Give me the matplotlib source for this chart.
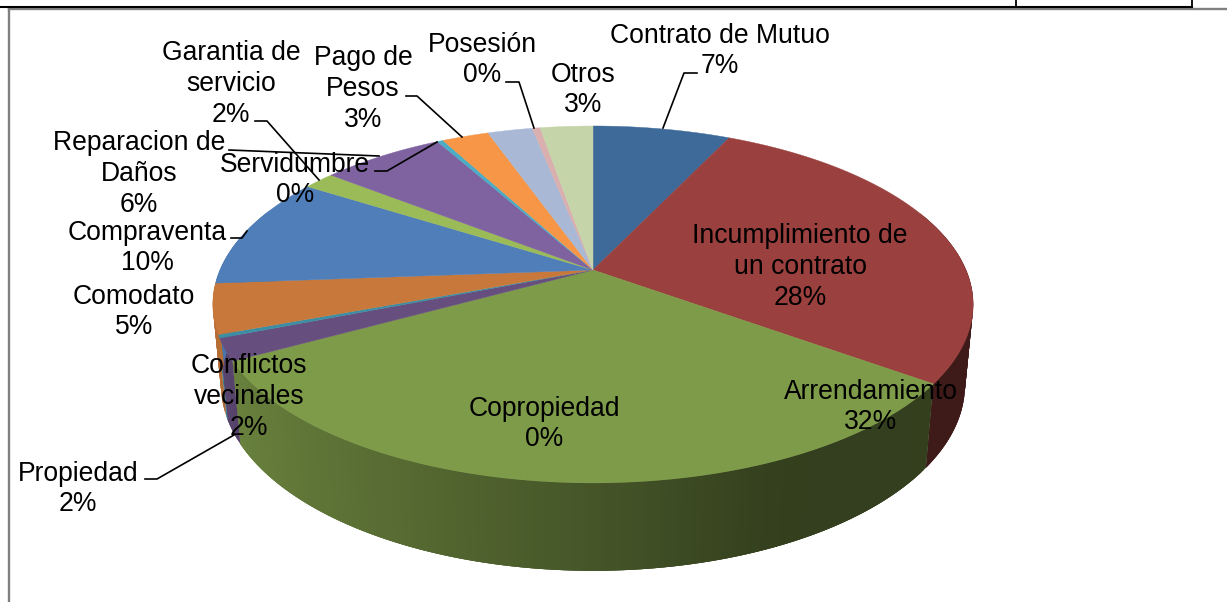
import numpy as np
import matplotlib
matplotlib.use("Agg")
import matplotlib.pyplot as plt

# porcentajes, en sentido horario desde arriba
nombres = ["Contrato de Mutuo", "Incumplimiento de\nun contrato", "Arrendamiento",
           "Conflictos\nvecinales", "Copropiedad", "Comodato", "Compraventa",
           "Garantia de\nservicio", "Reparacion de\nDaños", "Servidumbre",
           "Pago de\nPesos", "Propiedad", "Posesión", "Otros"]
valores = [7.05, 27.95, 32.0, 2.0, 0.3, 4.5, 10.2, 1.6, 6.3, 0.3, 2.4, 2.3, 0.4, 2.7]
etiquetas = ["7%", "28%", "32%", "2%", "0%", "5%", "10%", "2%", "6%", "0%", "3%", "2%", "0%", "3%"]
colores = ["#3E6A99", "#9A403E", "#7E9B49", "#664F7E", "#3B8EA3", "#C8783A", "#4F7EB9",
           "#9BBB59", "#7F62A0", "#4BACC6", "#F79646", "#A8B8D5", "#D9AFAF", "#C6D5A9"]

# centro de cada bloque de texto
pos_texto = [(720, 51), (800, 267), (871, 407), (249, 397), (544, 424), (134, 312), (147, 248),
             (231, 84), (139, 174), (295, 180), (363, 89), (78, 489), (482, 60), (583, 90)]

# lineas guia
guias = [[(663, 128), (684, 73), (697, 73)],
         [(462, 137), (417, 96), (406, 96)],
         [(534, 128), (519, 82), (506, 82)],
         [(319, 180), (267, 121), (255, 121)],
         [(379, 156), (229, 150)],
         [(437, 142), (387, 171), (375, 171)],
         [(247, 231), (242, 238), (231, 238)],
         [(234, 435), (157, 479), (145, 479)]]

K = 0.193  # perspectiva del disco


def disco_sup(t):
    u, v = np.sin(t), np.cos(t)
    d = 1 + K * v
    return 593 + 373 * u / d, 270 - 171.8 * v / d


def disco_inf(t):
    u, v = np.sin(t), np.cos(t)
    d = 1 + K * v
    return 593 + 365 * u / d, 349 - 179 * v / d


def oscurecer(color, f):
    r, g, b = matplotlib.colors.to_rgb(color)
    return (r * f, g * f, b * f)


fig = plt.figure(figsize=(12.27, 6.02), dpi=100)
ax = fig.add_axes([0, 0, 1, 1])
ax.set_xlim(0, 1227)
ax.set_ylim(602, 0)
ax.axis("off")

# marco de la pagina
ax.plot([9, 9], [8, 602], color="#808080", lw=1.7)
ax.plot([9, 1227], [8.5, 8.5], color="#808080", lw=1.7)
ax.plot([0, 1192], [6.5, 6.5], color="black", lw=1.5)
ax.plot([1016, 1016], [0, 7], color="black", lw=1.3)
ax.plot([1192, 1192], [0, 7], color="black", lw=1.3)

limites = 2 * np.pi * np.cumsum([0] + valores) / sum(valores)

# pared lateral, tiras que se solapan para que no se vean rayas
for i, c in enumerate(colores):
    ini, fin = limites[i], limites[i + 1]
    n = max(2, int((fin - ini) / 0.012))
    ts = np.linspace(ini, fin, n + 1)
    paso = ts[1] - ts[0]
    for a in ts[:-1]:
        b = min(a + 3 * paso, fin)
        m = a + paso / 2
        if np.cos(m) > 0.35:
            continue
        f = np.interp(np.sin(m), [-1, -0.85, 0, 0.4, 1], [0.92, 0.82, 0.55, 0.41, 0.40])
        xa, ya = disco_sup(a)
        xb, yb = disco_sup(b)
        xc, yc = disco_inf(b)
        xd, yd = disco_inf(a)
        ax.fill([xa, xb, xc, xd], [ya, yb, yc, yd], color=oscurecer(c, f), lw=0, zorder=2)

# cara superior
for i, c in enumerate(colores):
    ts = np.linspace(limites[i], limites[i + 1], max(3, int(valores[i] * 8)))
    xs, ys = disco_sup(ts)
    xs = np.concatenate([[593], xs])
    ys = np.concatenate([[270], ys])
    ax.fill(xs, ys, color=c, lw=0.3, zorder=3)

for g in guias:
    ax.plot([p[0] for p in g], [p[1] for p in g], color="black", lw=1.2, zorder=4)

for nom, et, p in zip(nombres, etiquetas, pos_texto):
    ax.text(p[0], p[1], nom + "\n" + et, ha="center", va="center", family="Liberation Sans",
            fontsize=19.1, linespacing=1.23, color="black", zorder=5)

fig.savefig("out.png", dpi=100)
